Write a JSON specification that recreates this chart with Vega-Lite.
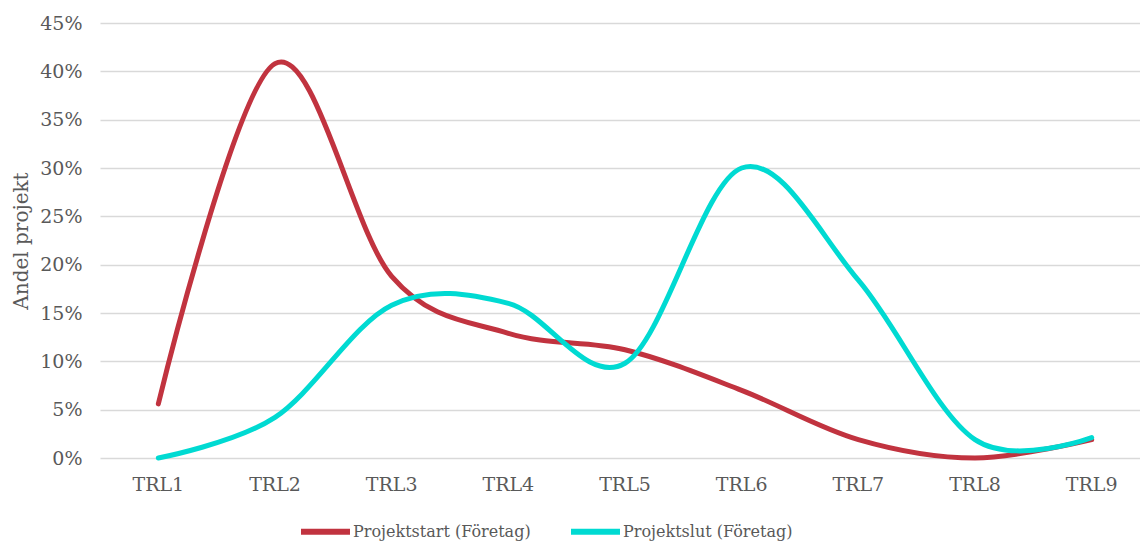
{
  "$schema": "https://vega.github.io/schema/vega-lite/v6.json",
  "autosize": "none",
  "padding": {"left": 100, "top": 23, "right": 0, "bottom": 84},
  "width": 1050,
  "height": 435,
  "background": "white",
  "config": {
    "font": "DejaVu Serif",
    "view": {"stroke": null}
  },
  "data": {
    "values": [
      {"trl": "TRL1", "serie": "Projektstart (Företag)", "value": 0.056},
      {"trl": "TRL2", "serie": "Projektstart (Företag)", "value": 0.408},
      {"trl": "TRL3", "serie": "Projektstart (Företag)", "value": 0.188},
      {"trl": "TRL4", "serie": "Projektstart (Företag)", "value": 0.129},
      {"trl": "TRL5", "serie": "Projektstart (Företag)", "value": 0.112},
      {"trl": "TRL6", "serie": "Projektstart (Företag)", "value": 0.07},
      {"trl": "TRL7", "serie": "Projektstart (Företag)", "value": 0.019},
      {"trl": "TRL8", "serie": "Projektstart (Företag)", "value": 0.0},
      {"trl": "TRL9", "serie": "Projektstart (Företag)", "value": 0.019},
      {"trl": "TRL1", "serie": "Projektslut (Företag)", "value": 0.0},
      {"trl": "TRL2", "serie": "Projektslut (Företag)", "value": 0.042},
      {"trl": "TRL3", "serie": "Projektslut (Företag)", "value": 0.158},
      {"trl": "TRL4", "serie": "Projektslut (Företag)", "value": 0.16},
      {"trl": "TRL5", "serie": "Projektslut (Företag)", "value": 0.098},
      {"trl": "TRL6", "serie": "Projektslut (Företag)", "value": 0.30},
      {"trl": "TRL7", "serie": "Projektslut (Företag)", "value": 0.184},
      {"trl": "TRL8", "serie": "Projektslut (Företag)", "value": 0.019},
      {"trl": "TRL9", "serie": "Projektslut (Företag)", "value": 0.021}
    ]
  },
  "mark": {"type": "line", "interpolate": "cardinal", "strokeWidth": 5, "strokeCap": "round"},
  "encoding": {
    "x": {
      "field": "trl", "type": "nominal", "title": null,
      "scale": {"type": "band", "paddingInner": 0, "paddingOuter": 0},
      "axis": {"labelAngle": 0, "ticks": false, "domain": false, "labelFontSize": 19, "labelColor": "#595959", "labelPadding": 17}
    },
    "y": {
      "field": "value", "type": "quantitative",
      "scale": {"domain": [0, 0.45], "nice": false},
      "title": "Andel projekt",
      "axis": {
        "values": [0, 0.05, 0.1, 0.15, 0.2, 0.25, 0.3, 0.35, 0.4, 0.45],
        "format": ".0%", "ticks": false, "domain": false,
        "labelFontSize": 19, "labelColor": "#595959", "labelPadding": 18,
        "gridColor": "#d9d9d9", "gridWidth": 1.5,
        "titleFontSize": 20, "titleColor": "#595959", "titleFontWeight": "normal", "titlePadding": 8
      }
    },
    "color": {
      "field": "serie", "type": "nominal",
      "scale": {"domain": ["Projektstart (Företag)", "Projektslut (Företag)"], "range": ["#C1333F", "#00DAD2"]},
      "legend": {
        "orient": "none", "legendX": 198, "legendY": 481, "direction": "horizontal", "title": null,
        "symbolType": "stroke", "symbolSize": 2400, "symbolStrokeWidth": 6,
        "labelFontSize": 16, "labelColor": "#595959", "labelLimit": 400, "columnPadding": 28, "labelOffset": 0
      }
    }
  }
}
